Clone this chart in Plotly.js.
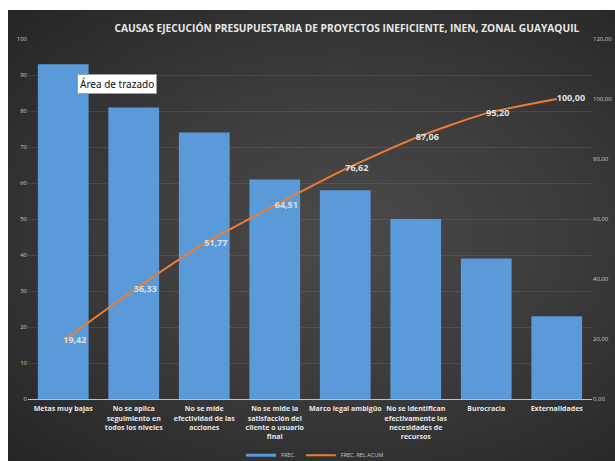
<!DOCTYPE html>
<html>
<head>
<meta charset="utf-8">
<script src="https://cdn.plot.ly/plotly-3.0.1.min.js"></script>
<style>
  html, body { margin: 0; padding: 0; background: #ffffff; }
  #bg { position: absolute; left: 8px; top: 10px; width: 607px; height: 451px;
        background: radial-gradient(ellipse at 55% 50%, #4a4a4a 0%, #3c3c3c 45%, #252525 100%); }
  #chart { position: absolute; left: 0; top: 0; width: 615px; height: 461px; }
</style>
</head>
<body>
<div id="bg"></div>
<div id="chart"></div>
<script>
const categories = [
  "Metas muy bajas",
  "No se aplica<br>seguimiento en<br>todos los niveles",
  "No se mide<br>efectividad de las<br>acciones",
  "No se mide la<br>satisfacción del<br>cliente o usuario<br>final",
  "Marco legal ambigüo",
  "No se identifican<br>efectivamente las<br>necesidades de<br>recursos",
  "Burocracia",
  "Externalidades"
];
const frec = [93, 81, 74, 61, 58, 50, 39, 23];
const frecRelAcum = [19.42, 36.33, 51.77, 64.51, 76.62, 87.06, 95.20, 100.00];
const leftTicks = [0, 10, 20, 30, 40, 50, 60, 70, 80, 90, 100];
const rightTicks = [0, 20, 40, 60, 80, 100, 120];
const titleText = "CAUSAS EJECUCIÓN PRESUPUESTARIA DE PROYECTOS INEFICIENTE, INEN, ZONAL GUAYAQUIL";

const barColor = "#5a9ad8";
const lineColor = "#ed7d31";

const traces = [
  {
    type: "bar",
    name: "FREC.",
    x: categories,
    y: frec,
    marker: { color: barColor, line: { width: 0 } },
    showlegend: false,
    hoverinfo: "skip"
  },
  {
    // legend entry only (thin swatch like the original)
    type: "scatter",
    mode: "lines",
    name: "FREC.",
    x: [null],
    y: [null],
    line: { color: barColor, width: 3 },
    hoverinfo: "skip"
  },
  {
    type: "scatter",
    mode: "lines+text",
    name: "FREC. REL ACUM",
    x: categories,
    y: frecRelAcum,
    yaxis: "y2",
    line: { color: lineColor, width: 2, shape: "spline", smoothing: 0.6 },
    texttemplate: "%{y:.2f}",
    textposition: "middle right",
    textfont: { family: "Open Sans", size: 9, color: "#e0e0e0", weight: "bold" },
    cliponaxis: false,
    hoverinfo: "skip"
  }
];

const layout = {
  width: 615,
  height: 461,
  margin: { l: 28, r: 23, t: 39, b: 62, autoexpand: false },
  paper_bgcolor: "rgba(0,0,0,0)",
  plot_bgcolor: "rgba(0,0,0,0)",
  separators: ",.",
  bargap: 0.28,
  showlegend: true,
  hovermode: false,
  title: {
    text: titleText,
    font: { family: "Open Sans", size: 10.2, color: "#e8e8e8", weight: "bold" },
    x: 0.564, xref: "container", xanchor: "center",
    y: 0.939, yref: "container", yanchor: "middle",
    automargin: false
  },
  font: { family: "Open Sans", color: "#bfbfbf" },
  xaxis: {
    type: "category",
    automargin: false,
    showgrid: false,
    showline: true,
    linecolor: "#bfbfbf",
    linewidth: 1,
    ticks: "",
    tickangle: 0,
    ticklabelstandoff: 3,
    tickfont: { family: "Open Sans", size: 7, color: "#e6e6e6", weight: "bold" },
    fixedrange: true
  },
  yaxis: {
    range: [0, 100],
    automargin: false,
    tickvals: leftTicks,
    ticktext: leftTicks.map(String),
    showgrid: true,
    gridcolor: "rgba(255,255,255,0.09)",
    gridwidth: 1,
    zeroline: false,
    showline: false,
    ticks: "",
    tickfont: { family: "Open Sans", size: 6, color: "#c8c8c8" },
    fixedrange: true
  },
  yaxis2: {
    range: [0, 120],
    automargin: false,
    overlaying: "y",
    side: "right",
    tickvals: rightTicks,
    tickformat: ".2f",
    showgrid: false,
    zeroline: false,
    showline: false,
    ticks: "",
    tickfont: { family: "Open Sans", size: 6, color: "#c8c8c8" },
    fixedrange: true
  },
  legend: {
    orientation: "h",
    x: 0.509, xanchor: "center", xref: "paper",
    y: -0.156, yanchor: "middle", yref: "paper",
    font: { family: "Open Sans", size: 5.5, color: "#c8c8c8" },
    itemwidth: 30,
    traceorder: "normal",
    bgcolor: "rgba(0,0,0,0)"
  },
  annotations: [
    {
      text: "Área de trazado",
      xref: "paper", yref: "paper",
      x: 0.087, y: 0.903,
      xanchor: "left", yanchor: "top",
      showarrow: false,
      font: { family: "Noto Sans", size: 10, color: "#111111" },
      bgcolor: "#ffffff",
      bordercolor: "#a0a0a0",
      borderwidth: 1,
      borderpad: 2
    }
  ]
};

Plotly.newPlot("chart", traces, layout, { displayModeBar: false, staticPlot: true });
</script>
</body>
</html>
